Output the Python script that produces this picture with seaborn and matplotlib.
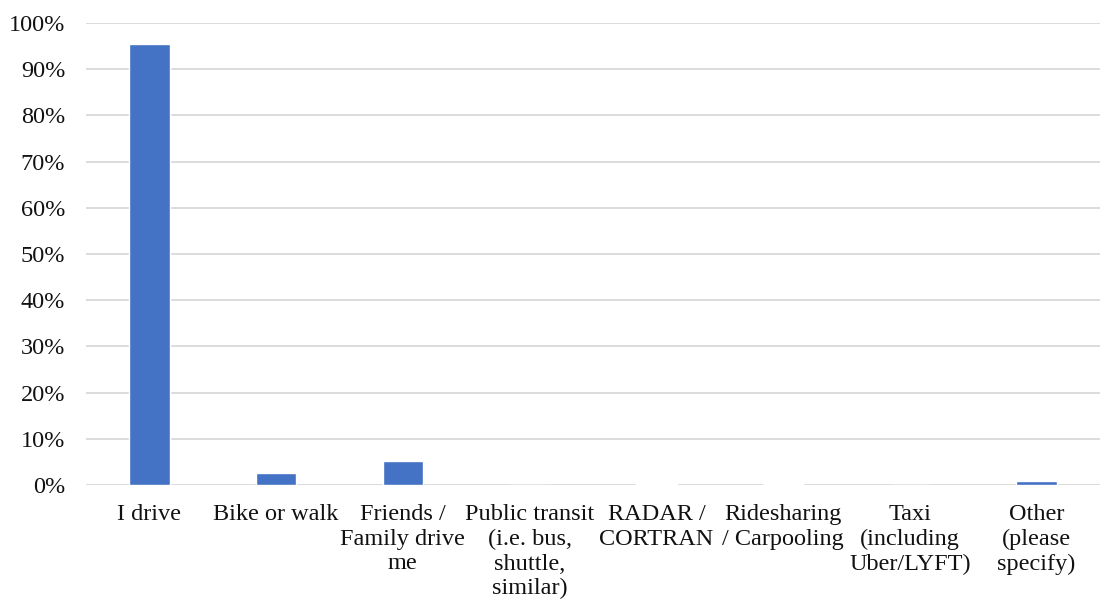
import matplotlib
matplotlib.use('Agg')
import matplotlib.pyplot as plt
import pandas as pd
import seaborn as sns
from matplotlib.ticker import PercentFormatter

categories = [
    'I drive',
    'Bike or walk',
    'Friends /\nFamily drive\nme',
    'Public transit\n(i.e. bus,\nshuttle,\nsimilar)',
    'RADAR /\nCORTRAN',
    'Ridesharing\n/ Carpooling',
    'Taxi\n(including\nUber/LYFT)',
    'Other\n(please\nspecify)',
]
shares = [95.5, 2.6, 5.2, 0.0, 0.2, 0.3, 0.0, 0.8]

sns.set_theme(style='white')
plt.rcParams['font.family'] = ['Liberation Serif', 'DejaVu Serif']

df = pd.DataFrame({'mode': categories, 'share': shares})

fig = plt.figure(figsize=(11.02, 6.06), dpi=100)
ax = fig.add_axes([86 / 1102, 1 - 485 / 606, 1014 / 1102, 462 / 606])
sns.barplot(data=df, x='mode', y='share', color='#4472C4', saturation=1,
            width=0.32, ax=ax, zorder=3)

ax.set_ylim(0, 100)
ax.set_yticks(range(0, 101, 10))
ax.yaxis.set_major_formatter(PercentFormatter(decimals=0))
ax.grid(axis='y', color='#D9D9D9', linewidth=1.3, zorder=0)
ax.set_axisbelow(True)
for s in ax.spines.values():
    s.set_visible(False)
ax.tick_params(axis='both', length=0, labelsize=17.5, colors='#111111')
ax.tick_params(axis='y', pad=15)
ax.tick_params(axis='x', pad=14)
ax.set_xlabel('')
ax.set_ylabel('')
for lab in ax.get_xticklabels():
    lab.set_linespacing(1.22)

fig.savefig('out.png', dpi=100)
